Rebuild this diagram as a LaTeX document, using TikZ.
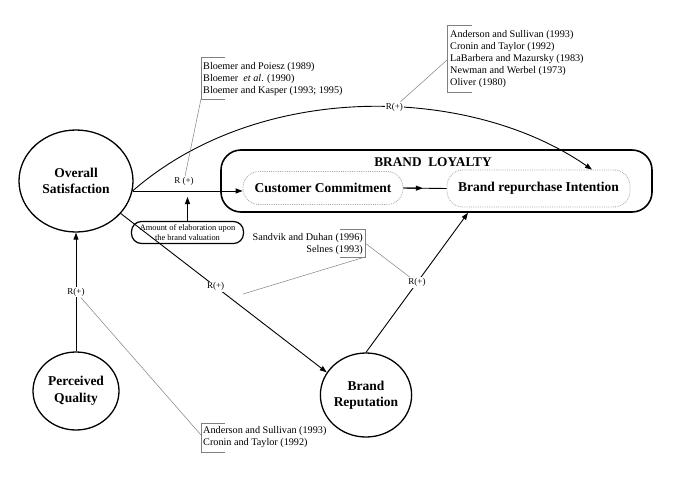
\documentclass[tikz,border=0pt]{standalone}
\usepackage{fontspec}
\setmainfont{Liberation Serif}
\usetikzlibrary{shapes.geometric,arrows.meta,calc}
\begin{document}
\begin{tikzpicture}[x=1pt,y=-1pt,
  construct/.style={ellipse,draw,line width=1.3pt,inner sep=0pt,align=center,font=\fontsize{13.5}{16.5}\selectfont\bfseries},
  innerbox/.style={draw=gray!70,densely dotted,line width=0.8pt,rounded corners=16pt,inner sep=0pt,font=\fontsize{13.5}{16}\selectfont\bfseries},
  cite/.style={align=left,inner sep=0pt,font=\fontsize{10.2}{12}\selectfont},
  bracket/.style={draw=gray,line width=0.5pt},
  link/.style={draw=gray,line width=0.5pt},
  rel/.style={draw,line width=0.9pt,-{Triangle[length=7pt,width=5pt]}},
  rlab/.style={fill=white,inner sep=1pt,font=\fontsize{9}{10}\selectfont},
]
\useasboundingbox (0,0) rectangle (690,479);

% constructs
\node[construct,minimum width=114pt,minimum height=102pt] (os) at (76,181) {Overall\\Satisfaction};
\node[construct,minimum width=86pt,minimum height=78pt] (pq) at (76,391) {Perceived\\Quality};
\node[construct,minimum width=88pt,minimum height=84pt] (br) at (366,395) {Brand\\Reputation};

% brand loyalty
\node[draw,line width=1.6pt,rounded corners=20pt,minimum width=431pt,minimum height=62pt,inner sep=0pt] (loyalty) at (436.5,181) {};
\node[inner sep=0pt,font=\fontsize{13.3}{15}\selectfont\bfseries] (title) at (433,162) {BRAND\ \ LOYALTY};
\node[innerbox,minimum width=160pt,minimum height=33pt] (cc) at (323,188) {Customer Commitment};
\node[innerbox,minimum width=183pt,minimum height=37pt] (bri) at (538.5,188.5) {Brand repurchase Intention};

% elaboration box
\node[draw,line width=1.2pt,rounded corners=10pt,minimum width=112pt,minimum height=22pt,inner sep=0pt,align=center,font=\fontsize{8.4}{10}\selectfont] (amount) at (187.5,232.5) {Amount of elaboration upon\\the brand valuation};

% citations
\node[cite,anchor=west] (c1) at (450,59) {Anderson and Sullivan (1993)\\Cronin and Taylor (1992)\\LaBarbera and Mazursky (1983)\\Newman and Werbel (1973)\\Oliver (1980)};
\node[cite,anchor=west] (c2) at (203,79) {Bloemer and Poiesz (1989)\\Bloemer\ \ \textit{et al}. (1990)\\Bloemer and Kasper (1993; 1995)};
\node[cite,anchor=east,align=right] (c3) at (363,244) {Sandvik and Duhan (1996)\\Selnes (1993)};
\node[cite,anchor=west] (c4) at (203,437.5) {Anderson and Sullivan (1993)\\Cronin and Taylor (1992)};

% brackets
\draw[bracket] (472,25) -- (447,25) -- (447,92) -- (472,92);
\draw[bracket] (225,57) -- (201,57) -- (201,99) -- (225,99);
\draw[bracket] (340,229) -- (365,229) -- (365,257) -- (340,257);
\draw[bracket] (225,423) -- (201,423) -- (201,452) -- (225,452);

\coordinate (b1) at (447,60);
\coordinate (b2) at (201,99);
\coordinate (b3a) at (365,257);
\coordinate (b3b) at (365,243);
\coordinate (b4) at (201,435);
\coordinate (b3end) at (243,294);
\coordinate (tipc) at (592,0);
\coordinate (tipb) at (468,0);
\coordinate (elab) at (187.5,197);

% relations
\draw[rel] (os.-10) .. controls (260,80) and (470,85) .. node[rlab,pos=0.56] (rc) {R(+)} (bri.north -| tipc);
\draw[rel] (os.-10) -- (os.-10 -| cc.west);
\node[rlab] (r1) at (184,181) {R (+)};
\draw[rel] (amount) -- (elab);
\draw[rel] (pq) -- node[rlab] (r2) {R(+)} (os);
\draw[rel] (os.-36) -- node[rlab,pos=0.46] (r3) {R(+)} (br.150);
\draw[rel] (br.north) -- node[rlab] (r4) {R(+)} (loyalty.south -| tipb);
\draw[line width=0.9pt] (cc.east) -- coordinate[pos=0.45] (mid) (bri.west);
\draw[rel] (cc.east) -- (mid);

% citation links
\draw[link] (b1) -- (rc);
\draw[link] (b2) -- (r1);
\draw[link] (b3a) -- (b3end);
\draw[link] (b3b) -- (r4);
\draw[link] (b4) -- (r2);
\end{tikzpicture}
\end{document}
